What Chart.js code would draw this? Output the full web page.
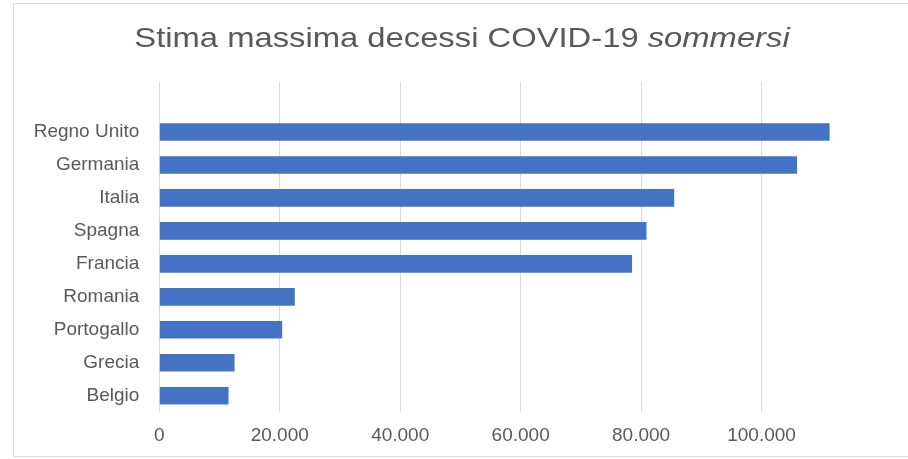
<!DOCTYPE html>
<html>
<head>
<meta charset="utf-8">
<script src="https://cdn.jsdelivr.net/npm/chart.js@4/dist/chart.umd.min.js"></script>
<style>
  html, body { margin: 0; padding: 0; background: #fff; overflow: hidden; }
  #frame {
    position: absolute; left: 13px; top: 3px; width: 920px; height: 454px;
    border: 1px solid #d9d9d9; box-sizing: border-box;
  }
  #chart { position: absolute; left: 0; top: 0; }
</style>
</head>
<body>
<div id="frame"></div>
<canvas id="chart" width="908" height="459"></canvas>
<script>
const categories = ["Regno Unito", "Germania", "Italia", "Spagna", "Francia", "Romania", "Portogallo", "Grecia", "Belgio"];
const deaths = [111300, 105900, 85500, 80900, 78500, 22500, 20400, 12500, 11500];
const xTicks = [0, 20000, 40000, 60000, 80000, 100000];
const titleMain = "Stima massima decessi COVID-19 ";
const titleItalic = "sommersi";

const TEXT = "#595959";
const GRID = "#d9d9d9";
const FONT = '"Liberation Sans", Arial, sans-serif';

const fmt = (v) => String(v).replace(/\B(?=(\d{3})+(?!\d))/g, ".");
const shown = (v) => xTicks.includes(v);

// title with an italic last word, Excel-ish stretched look
const titlePlugin = {
  id: "mixedTitle",
  afterDraw(chart) {
    const ctx = chart.ctx;
    ctx.save();
    ctx.fillStyle = TEXT;
    ctx.textBaseline = "alphabetic";
    ctx.font = "28px " + FONT;
    const w1 = ctx.measureText(titleMain).width;
    ctx.font = "italic 28px " + FONT;
    const w2 = ctx.measureText(titleItalic).width;
    const sx = 1.17;
    ctx.translate(462 - (w1 + w2) * sx / 2, 46.5);
    ctx.scale(sx, 1);
    ctx.font = "28px " + FONT;
    ctx.fillText(titleMain, 0, 0);
    ctx.font = "italic 28px " + FONT;
    ctx.fillText(titleItalic, w1, 0);
    ctx.restore();
  },
};

// vertical gridlines run a bit above the first category in the original
const gridExtend = {
  id: "gridExtend",
  beforeDatasetsDraw(chart) {
    const x = chart.scales.x;
    const top = chart.chartArea.top;
    const ctx = chart.ctx;
    ctx.save();
    ctx.strokeStyle = GRID;
    ctx.lineWidth = 1;
    ctx.beginPath();
    x.ticks.forEach((t) => {
      if (!shown(t.value)) return;
      const px = Math.round(x.getPixelForValue(t.value) - 0.5) + 0.5;
      ctx.moveTo(px, top - 33.5);
      ctx.lineTo(px, top);
    });
    ctx.stroke();
    ctx.restore();
  },
};

new Chart(document.getElementById("chart"), {
  type: "bar",
  data: {
    labels: categories,
    datasets: [
      {
        data: deaths,
        backgroundColor: "#4472c4",
        borderWidth: 0,
        categoryPercentage: 1,
        barPercentage: 0.535,
      },
    ],
  },
  options: {
    indexAxis: "y",
    responsive: false,
    animation: false,
    devicePixelRatio: 1,
    layout: { padding: { top: 115.5, right: 26, bottom: 0, left: 0 } },
    plugins: {
      legend: { display: false },
      title: { display: false },
      tooltip: { enabled: false },
    },
    scales: {
      x: {
        min: 0,
        max: 120000,
        ticks: {
          stepSize: 20000,
          color: TEXT,
          font: { family: FONT, size: 19 },
          padding: 12,
          maxRotation: 0,
          callback: (v) => (shown(v) ? fmt(v) : ""),
        },
        grid: {
          drawTicks: false,
          color: (c) => (c.tick && shown(c.tick.value) ? GRID : "rgba(0,0,0,0)"),
        },
        border: { display: false },
      },
      y: {
        ticks: {
          color: TEXT,
          font: { family: FONT, size: 19 },
          padding: 20,
        },
        grid: { display: false, drawTicks: false },
        border: { display: false },
        afterFit: (s) => { s.width = 159.3; },
      },
    },
  },
  plugins: [titlePlugin, gridExtend],
});
</script>
</body>
</html>
